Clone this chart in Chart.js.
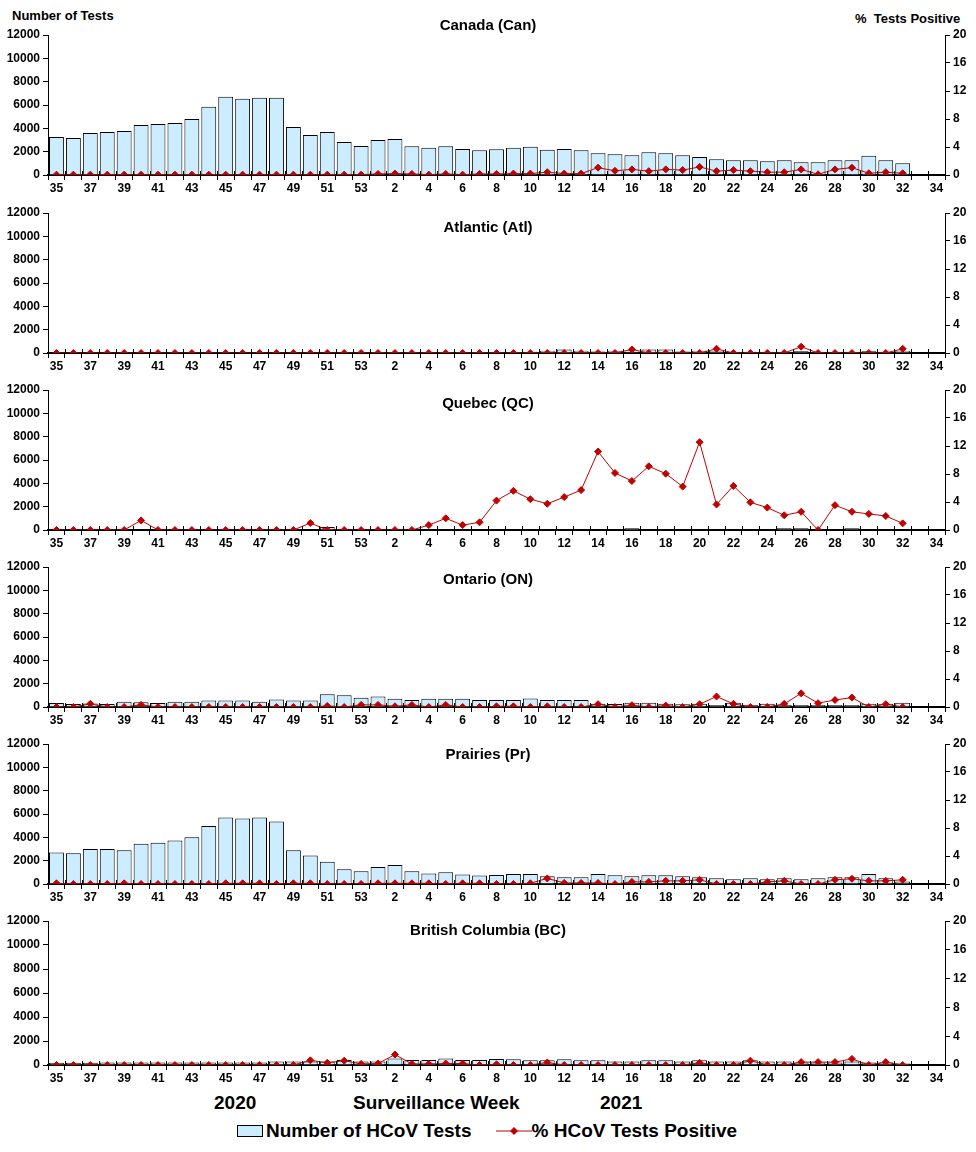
<!DOCTYPE html>
<html>
<head>
<meta charset="utf-8">
<script src="https://cdn.jsdelivr.net/npm/chart.js@4/dist/chart.umd.min.js"></script>
<style>
  body { margin: 0; background: #fff; }
  #wrap { position: relative; width: 976px; height: 1152px; font-family: "Liberation Sans", Arial, sans-serif; font-weight: bold; color: #000; }
  #wrap canvas { position: absolute; left: 0; }
  .txt { position: absolute; white-space: nowrap; }
  .legend { position: absolute; top: 1120px; left: 237px; font-size: 19px; display: flex; align-items: center; }
  .swatch { width: 24px; height: 10px; border: 1px solid #000; background: rgb(204, 236, 255); margin-right: 3px; }
</style>
</head>
<body>
<div id="wrap">
  <div class="txt" style="left:12px; top:8px; font-size:13px;">Number of Tests</div>
  <div class="txt" style="left:855px; top:11px; font-size:13px;">%&nbsp; Tests Positive</div>

  <canvas id="c0" width="976" height="195" style="top:0px"></canvas>
  <canvas id="c1" width="976" height="177" style="top:196px"></canvas>
  <canvas id="c2" width="976" height="177" style="top:373px"></canvas>
  <canvas id="c3" width="976" height="177" style="top:550px"></canvas>
  <canvas id="c4" width="976" height="177" style="top:727px"></canvas>
  <canvas id="c5" width="976" height="181" style="top:904px"></canvas>

  <div class="txt" style="left:214px; top:1092px; font-size:19px;">2020</div>
  <div class="txt" style="left:353px; top:1092px; font-size:19px;">Surveillance Week</div>
  <div class="txt" style="left:600px; top:1092px; font-size:19px;">2021</div>

  <div class="legend">
    <div class="swatch"></div><span>Number of HCoV Tests</span>
    <svg width="36" height="12" style="margin-left:24px"><line x1="0" y1="6" x2="36" y2="6" stroke="rgb(192,0,0)" stroke-width="1"/><polygon points="18,2 22,6 18,10 14,6" fill="rgb(192,0,0)"/></svg>
    <span>% HCoV Tests Positive</span>
  </div>
</div>

<script>
// surveillance weeks 2020-35 .. 2021-34
const weeks = [35, 36, 37, 38, 39, 40, 41, 42, 43, 44, 45, 46, 47, 48, 49, 50, 51, 52, 53,
  1, 2, 3, 4, 5, 6, 7, 8, 9, 10, 11, 12, 13, 14, 15, 16, 17, 18, 19, 20,
  21, 22, 23, 24, 25, 26, 27, 28, 29, 30, 31, 32, 33, 34];

const panelTitles = ['Canada (Can)', 'Atlantic (Atl)', 'Quebec (QC)', 'Ontario (ON)', 'Prairies (Pr)', 'British Columbia (BC)'];

// number of tests per week
const testsCan = [3250, 3170, 3600, 3680, 3770, 4290, 4370, 4460, 4800, 5840, 6700, 6530, 6620, 6620, 4120, 3420, 3680, 2820, 2480,
  2990, 3080, 2470, 2330, 2470, 2220, 2130, 2200, 2330, 2420, 2160, 2220, 2130, 1870, 1780, 1700, 1960, 1870, 1700, 1550,
  1350, 1270, 1270, 1180, 1270, 1090, 1090, 1270, 1270, 1640, 1270, 1000, null, null];
const testsAtl = [40, 40, 40, 40, 40, 40, 40, 40, 40, 40, 40, 40, 40, 40, 40, 40, 40, 40, 40,
  90, 90, 90, 90, 90, 90, 90, 90, 90, 100, 200, 300, 200, 120, 200, 100, 300, 300, 120, 200,
  200, 100, 100, 100, 100, 150, 100, 100, 100, 150, 100, 200, null, null];
const testsQC = [50, 50, 50, 50, 50, 50, 50, 50, 50, 50, 50, 50, 50, 50, 50, 60, 250, 50, 50,
  50, 50, 50, 50, 50, 50, 50, 50, 50, 50, 50, 50, 50, 50, 50, 150, 50, 50, 50, 50,
  50, 50, 50, 50, 150, 150, 50, 50, 150, 50, 50, 50, null, null];
const testsON = [350, 250, 300, 250, 450, 400, 350, 450, 450, 550, 550, 550, 450, 650, 550, 550, 1100, 1000, 800,
  900, 700, 600, 700, 700, 700, 600, 600, 600, 720, 600, 600, 600, 270, 250, 360, 360, 270, 240, 270,
  180, 360, 180, 270, 180, 180, 180, 180, 180, 270, 270, 360, null, null];
const testsPr = [2700, 2630, 3000, 3000, 2900, 3450, 3530, 3720, 4000, 4980, 5700, 5620, 5700, 5350, 2900, 2450, 1900, 1270, 1090,
  1450, 1630, 1090, 900, 1000, 820, 730, 780, 850, 850, 670, 580, 580, 850, 760, 670, 760, 760, 670, 580,
  490, 400, 490, 400, 490, 400, 490, 580, 580, 850, 490, 210, null, null];
const testsBC = [180, 180, 180, 200, 200, 200, 200, 200, 200, 200, 200, 200, 200, 300, 300, 300, 300, 420, 300,
  300, 540, 420, 420, 540, 420, 420, 500, 470, 390, 390, 470, 390, 390, 300, 300, 390, 390, 300, 390,
  300, 300, 390, 300, 300, 200, 200, 200, 300, 200, 200, 120, null, null];

// % tests positive per week
const pctCan = [0.05, 0.05, 0.05, 0.05, 0.05, 0.05, 0.05, 0.05, 0.05, 0.05, 0.05, 0.05, 0.05, 0.05, 0.05, 0.05, 0.05, 0.05, 0.05,
  0.15, 0.2, 0.15, 0.05, 0.15, 0.05, 0.15, 0.15, 0.2, 0.2, 0.4, 0.2, 0.2, 1.05, 0.6, 0.8, 0.55, 0.8, 0.7, 1.15,
  0.55, 0.7, 0.55, 0.4, 0.4, 0.8, 0.1, 0.8, 1.05, 0.25, 0.4, 0.25, null, null];
const pctAtl = [0, 0, 0, 0, 0, 0, 0, 0, 0, 0, 0, 0, 0, 0, 0, 0, 0, 0, 0,
  0, 0, 0, 0, 0, 0, 0, 0, 0, 0, 0, 0, 0, 0, 0, 0.5, 0, 0, 0, 0,
  0.6, 0, 0, 0, 0, 0.9, 0, 0, 0, 0, 0, 0.6, null, null];
const pctQC = [0, 0, 0, 0, 0, 1.37, 0, 0, 0, 0, 0, 0, 0, 0, 0, 1.0, 0, 0, 0,
  0, 0, 0, 0.7, 1.67, 0.7, 1.1, 4.2, 5.6, 4.4, 3.75, 4.7, 5.7, 11.2, 8.15, 7.0, 9.1, 8.05, 6.2, 12.55,
  3.65, 6.3, 3.95, 3.2, 2.1, 2.6, 0, 3.55, 2.6, 2.3, 2.0, 0.95, null, null];
const pctON = [0, 0, 0.45, 0, 0, 0.3, 0, 0, 0, 0, 0, 0, 0, 0, 0, 0, 0.15, 0, 0.3,
  0.3, 0.1, 0.3, 0, 0.3, 0, 0, 0.1, 0.1, 0, 0.1, 0, 0, 0.4, 0, 0.25, 0, 0.2, 0, 0.4,
  1.5, 0.45, 0, 0, 0.45, 1.95, 0.55, 1.0, 1.35, 0, 0.4, 0, null, null];
const pctPr = [0.1, 0, 0, 0, 0.1, 0, 0, 0, 0, 0, 0.1, 0.1, 0.1, 0, 0.1, 0.1, 0, 0, 0,
  0.1, 0.1, 0.1, 0.1, 0, 0.1, 0.1, 0, 0, 0.1, 0.8, 0.15, 0.15, 0.15, 0, 0.3, 0.3, 0.45, 0.45, 0.6,
  0, 0, 0, 0.3, 0.45, 0, 0, 0.6, 0.75, 0.45, 0.45, 0.6, null, null];
const pctBC = [0, 0, 0, 0, 0, 0, 0, 0, 0, 0, 0, 0, 0, 0, 0, 0.65, 0.3, 0.6, 0.15,
  0.2, 1.45, 0.15, 0.15, 0.2, 0.2, 0, 0.1, 0, 0, 0.35, 0, 0, 0, 0, 0, 0, 0, 0, 0.3,
  0, 0, 0.6, 0, 0, 0.4, 0.4, 0.4, 0.85, 0, 0.4, 0, null, null];

const testsList = [testsCan, testsAtl, testsQC, testsON, testsPr, testsBC];
const pctList = [pctCan, pctAtl, pctQC, pctON, pctPr, pctBC];
const titleOffsets = [-9, 15, 14, 13, 11, 10];

const FONT = 'Liberation Sans';
const RED = 'rgb(192, 0, 0)';

// panel title drawn relative to the plot top
const panelTitle = {
  id: 'panelTitle',
  afterDraw(chart, args, opts) {
    const ctx = chart.ctx;
    ctx.save();
    ctx.font = 'bold 15px "' + FONT + '"';
    ctx.fillStyle = '#000';
    ctx.textAlign = 'center';
    ctx.textBaseline = 'middle';
    ctx.fillText(opts.text, chart.width / 2, chart.chartArea.top + opts.offset);
    ctx.restore();
  }
};

// short tick marks above the x axis, so they cross the axis line
const crossTicks = {
  id: 'crossTicks',
  afterDraw(chart) {
    const x = chart.scales.x;
    const ctx = chart.ctx;
    const bottom = chart.chartArea.bottom;
    ctx.save();
    ctx.strokeStyle = '#000';
    ctx.lineWidth = 1;
    ctx.beginPath();
    for (let i = 0; i <= weeks.length; i++) {
      const px = i === 0 ? x.left : (i === weeks.length ? x.right
        : (x.getPixelForValue(i) + x.getPixelForValue(i - 1)) / 2);
      const p = Math.round(px) + 0.5;
      ctx.moveTo(p, bottom);
      ctx.lineTo(p, bottom - 4);
    }
    ctx.stroke();
    ctx.restore();
  }
};

const tickFont = { family: FONT, size: 12, weight: 'bold' };

function makePanel(i) {
  const ctx = document.getElementById('c' + i).getContext('2d');
  return new Chart(ctx, {
    type: 'bar',
    data: {
      labels: weeks.map(String),
      datasets: [
        {
          type: 'line',
          label: '% HCoV Tests Positive',
          data: pctList[i],
          yAxisID: 'y1',
          borderColor: RED,
          backgroundColor: RED,
          borderWidth: 1,
          pointStyle: 'rectRot',
          pointRadius: 3.5,
          pointBackgroundColor: RED,
          pointBorderColor: RED,
          tension: 0,
          order: 0
        },
        {
          type: 'bar',
          label: 'Number of HCoV Tests',
          data: testsList[i],
          yAxisID: 'y',
          backgroundColor: 'rgb(204, 236, 255)',
          borderColor: '#000',
          borderWidth: 1,
          categoryPercentage: 1.0,
          barPercentage: 0.88,
          order: 1
        }
      ]
    },
    options: {
      responsive: false,
      animation: false,
      layout: { padding: { top: i === 0 ? 35 : 17, left: 0, right: 0, bottom: 0 } },
      plugins: {
        legend: { display: false },
        tooltip: { enabled: false },
        panelTitle: { text: panelTitles[i], offset: titleOffsets[i] }
      },
      scales: {
        x: {
          offset: true,
          grid: { offset: true, drawOnChartArea: false, drawTicks: true, tickLength: 5, color: '#000' },
          border: { color: '#000', width: 2 },
          ticks: {
            autoSkip: false,
            maxRotation: 0,
            padding: 1,
            color: '#000',
            font: tickFont,
            callback: (v, idx) => (idx % 2 === 0 ? weeks[idx] : '')
          },
          afterFit: s => { s.height = 20; }
        },
        y: {
          position: 'left',
          min: 0,
          max: 12000,
          ticks: { stepSize: 2000, color: '#000', padding: 3, font: tickFont, callback: v => String(v) },
          grid: { drawOnChartArea: false, tickLength: 5, color: '#000' },
          border: { color: '#000', width: 1 },
          afterFit: s => { s.width = 48; }
        },
        y1: {
          position: 'right',
          min: 0,
          max: 20,
          ticks: { stepSize: 4, color: '#000', padding: 3, font: tickFont, callback: v => String(v) },
          grid: { drawOnChartArea: false, tickLength: 5, color: '#000' },
          border: { color: '#000', width: 1 },
          afterFit: s => { s.width = 31; }
        }
      }
    },
    plugins: [panelTitle, crossTicks]
  });
}

for (let i = 0; i < 6; i++) makePanel(i);
</script>
</body>
</html>
